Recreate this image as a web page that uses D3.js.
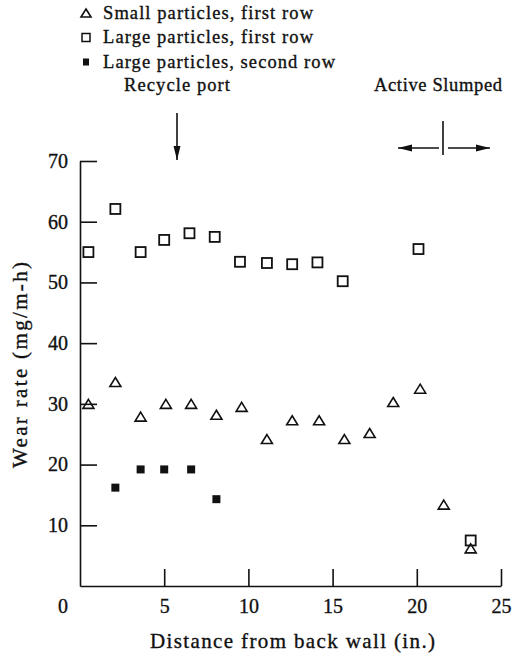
<!DOCTYPE html>
<html>
<head>
<meta charset="utf-8">
<script src="https://cdn.jsdelivr.net/npm/d3@7"></script>
<style>
  body { margin: 0; background: #fff; }
  text { font-family: "Liberation Serif", "Times New Roman", serif; fill: #111; stroke: #111; stroke-width: 0.35px; }
</style>
</head>
<body>
<div id="chart"></div>
<script>
WIDTH = 513;
HEIGHT = 653;

// Data
var smallX = [0.5, 2.1, 3.6, 5.1, 6.6, 8.1, 9.6, 11.1, 12.6, 14.2, 15.7, 17.2, 18.6, 20.2, 21.6, 23.2];
var smallY = [30.0, 33.6, 27.9, 30.0, 30.0, 28.2, 29.5, 24.2, 27.3, 27.3, 24.2, 25.2, 30.3, 32.5, 13.4, 6.2];
var largeX = [0.5, 2.1, 3.6, 5.0, 6.5, 8.0, 9.5, 11.1, 12.6, 14.1, 15.6, 20.1, 23.2];
var largeY = [55.0, 62.1, 55.0, 57.0, 58.1, 57.5, 53.4, 53.2, 53.0, 53.3, 50.2, 55.5, 7.5];
var secondX = [2.1, 3.6, 5.0, 6.6, 8.1];
var secondY = [16.2, 19.2, 19.2, 19.2, 14.3];

var xTicks = [5, 10, 15, 20, 25];
var yTicks = [10, 20, 30, 40, 50, 60, 70];
var legendLabels = ["Small particles, first row", "Large particles, first row", "Large particles, second row"];

var margin = { top: 161, right: 12, bottom: 67, left: 80 };

var svg = d3.select("#chart").append("svg")
  .attr("width", WIDTH)
  .attr("height", HEIGHT);

const xScale = d3.scaleLinear().domain([0, 25]).range([margin.left, WIDTH - margin.right]);
const yScale = d3.scaleLinear().domain([0, 70]).range([HEIGHT - margin.bottom, margin.top]);

var ink = "#111";

// axes
var xAxis = d3.axisBottom(xScale).tickValues(xTicks).tickSizeInner(-17).tickSizeOuter(0).tickPadding(13);
var yAxis = d3.axisLeft(yScale).tickValues(yTicks).tickSizeInner(-17).tickSizeOuter(0).tickPadding(12);

var gx = svg.append("g").attr("transform", "translate(0," + yScale(0) + ")").call(xAxis);
var gy = svg.append("g").attr("transform", "translate(" + xScale(0) + ",0)").call(yAxis);

[gx, gy].forEach(function(g) {
  g.selectAll("path, line").attr("stroke", ink).attr("stroke-width", 1.6);
  g.selectAll("text").style("font-size", "20px").attr("fill", ink);
});

// shared origin label
svg.append("text")
  .attr("x", xScale(0) - 17)
  .attr("y", yScale(0) + 13)
  .attr("dy", "0.71em")
  .attr("text-anchor", "middle")
  .style("font-size", "20px")
  .text("0");

// axis titles
svg.append("text")
  .attr("x", 150)
  .attr("y", 648)
  .attr("textLength", 285)
  .attr("lengthAdjust", "spacing")
  .style("font-size", "21px")
  .text("Distance from back wall (in.)");

svg.append("text")
  .attr("transform", "translate(27,365) rotate(-90)")
  .attr("text-anchor", "middle")
  .attr("textLength", 206)
  .attr("lengthAdjust", "spacing")
  .style("font-size", "21px")
  .text("Wear rate (mg/m-h)");

// markers
function triangle(g, cx, cy, w, h) {
  return g.append("path")
    .attr("d", "M" + cx + "," + (cy - h / 2) + "L" + (cx + w / 2) + "," + (cy + h / 2) + "L" + (cx - w / 2) + "," + (cy + h / 2) + "Z")
    .attr("fill", "none")
    .attr("stroke", ink)
    .attr("stroke-width", 1.6);
}

var pts = svg.append("g");

largeX.forEach(function(x, i) {
  pts.append("rect")
    .attr("x", xScale(x) - 5)
    .attr("y", yScale(largeY[i]) - 5)
    .attr("width", 10)
    .attr("height", 10)
    .attr("fill", "none")
    .attr("stroke", ink)
    .attr("stroke-width", 1.8);
});

smallX.forEach(function(x, i) {
  triangle(pts, xScale(x), yScale(smallY[i]), 11, 9);
});

secondX.forEach(function(x, i) {
  pts.append("rect")
    .attr("x", xScale(x) - 4)
    .attr("y", yScale(secondY[i]) - 4)
    .attr("width", 8)
    .attr("height", 8)
    .attr("fill", ink);
});

// legend
var leg = svg.append("g");
var legLen = [210, 210, 232];
legendLabels.forEach(function(label, i) {
  var y = 13 + i * 24.5;
  if (i == 0) triangle(leg, 86, y, 10, 8);
  else if (i == 1) leg.append("rect").attr("x", 82).attr("y", y - 4).attr("width", 8).attr("height", 8)
    .attr("fill", "none").attr("stroke", ink).attr("stroke-width", 1.5);
  else leg.append("rect").attr("x", 83).attr("y", y - 3.5).attr("width", 6).attr("height", 7).attr("fill", ink);
  leg.append("text")
    .attr("x", 103)
    .attr("y", y + 5.5)
    .attr("textLength", legLen[i])
    .attr("lengthAdjust", "spacing")
    .style("font-size", "18.5px")
    .text(label);
});

// annotations
svg.append("defs").append("marker")
  .attr("id", "head")
  .attr("viewBox", "0 0 14 10")
  .attr("refX", 14)
  .attr("refY", 5)
  .attr("markerWidth", 14)
  .attr("markerHeight", 10)
  .attr("markerUnits", "userSpaceOnUse")
  .attr("orient", "auto")
  .append("path")
  .attr("d", "M0,1.5L14,5L0,8.5Z")
  .attr("fill", ink);

svg.append("text")
  .attr("x", 177)
  .attr("y", 91)
  .attr("text-anchor", "middle")
  .attr("textLength", 106)
  .attr("lengthAdjust", "spacing")
  .style("font-size", "18.5px")
  .text("Recycle port");

svg.append("line")
  .attr("x1", 177).attr("y1", 113)
  .attr("x2", 177).attr("y2", 160)
  .attr("stroke", ink).attr("stroke-width", 1.6)
  .attr("marker-end", "url(#head)");

svg.append("text")
  .attr("x", 374)
  .attr("y", 91)
  .attr("textLength", 128)
  .attr("lengthAdjust", "spacing")
  .style("font-size", "18.5px")
  .text("Active Slumped");

svg.append("line")
  .attr("x1", 443).attr("y1", 121)
  .attr("x2", 443).attr("y2", 155)
  .attr("stroke", ink).attr("stroke-width", 1.6);

svg.append("line")
  .attr("x1", 439).attr("y1", 148)
  .attr("x2", 398).attr("y2", 148)
  .attr("stroke", ink).attr("stroke-width", 1.6)
  .attr("marker-end", "url(#head)");

svg.append("line")
  .attr("x1", 448).attr("y1", 148)
  .attr("x2", 490).attr("y2", 148)
  .attr("stroke", ink).attr("stroke-width", 1.6)
  .attr("marker-end", "url(#head)");
</script>
</body>
</html>
